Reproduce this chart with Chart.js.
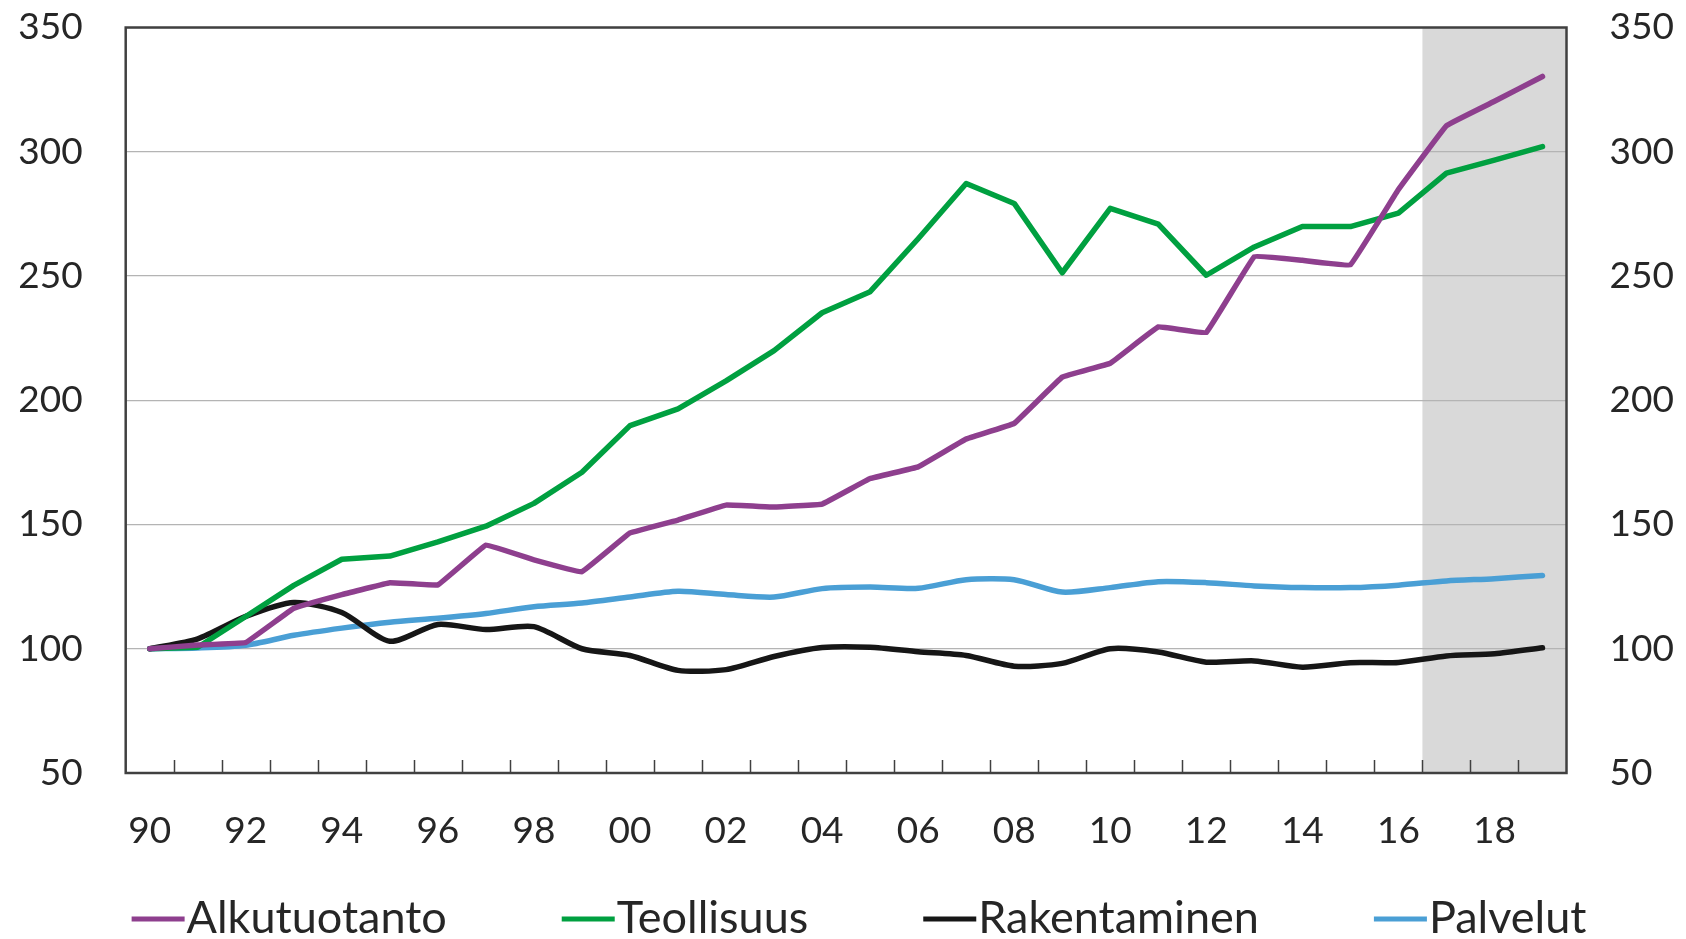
<!DOCTYPE html>
<html>
<head>
<meta charset="utf-8">
<script src="https://cdn.jsdelivr.net/npm/chart.js@4/dist/chart.umd.min.js"></script>
<style>
  html, body { margin: 0; padding: 0; background: #ffffff; overflow: hidden; }
  #wrap { width: 1686px; height: 939px; position: relative; }
</style>
</head>
<body>
<div id="wrap"><canvas id="c" width="1686" height="939"></canvas></div>
<script>
// ---- Data ----
const years = ['90','91','92','93','94','95','96','97','98','99','00','01','02','03','04','05','06','07','08','09','10','11','12','13','14','15','16','17','18','19'];
const forecastStart = '17';
const alkutuotanto = [100, 101.5, 102.5, 116.3, 121.8, 126.6, 125.7, 141.7, 135.8, 131, 146.6, 151.8, 157.8, 157, 158.2, 168.5, 173.2, 184.4, 190.7, 209.3, 214.9, 229.5, 227.3, 257.8, 256.3, 254.5, 284.8, 310.5, 320.3, 330.3];
const teollisuus = [100, 100.6, 113, 125.5, 136, 137.3, 143, 149.3, 158.5, 171, 189.8, 196.5, 207.8, 220, 235.2, 243.7, 265, 287.2, 279.2, 251.3, 277.2, 270.9, 250.3, 261.7, 269.9, 269.9, 275.3, 291.4, 296.6, 302.1];
const rakentaminen = [100, 104, 113, 118.6, 114.6, 103, 109.8, 107.7, 108.9, 100, 97.3, 91.3, 91.6, 96.9, 100.5, 100.6, 98.8, 97.3, 93, 94.1, 100, 98.7, 94.6, 95.1, 92.6, 94.4, 94.5, 97.1, 98, 100.4];
const palvelut = [100, 100.3, 101.4, 105.4, 108.3, 110.7, 112.3, 114.2, 116.9, 118.4, 120.8, 123.1, 121.8, 120.8, 124.2, 124.8, 124.3, 127.8, 127.8, 122.8, 124.6, 127, 126.6, 125.3, 124.6, 124.6, 125.6, 127.3, 128.2, 129.5];
const seriesNames = ['Alkutuotanto', 'Teollisuus', 'Rakentaminen', 'Palvelut'];
const yMin = 50, yMax = 350, yStep = 50;

const colors = ['#8E3F8E', '#00A040', '#161616', '#4A9FD5'];
const FONT = 'Lato, "Noto Sans", sans-serif';
const TEXT = '#262626';

// shaded forecast region
const shadePlugin = {
  id: 'shade',
  beforeDraw(chart) {
    const xs = chart.scales.x, area = chart.chartArea, ctx = chart.ctx;
    const i = years.indexOf(forecastStart);
    const x0 = (xs.getPixelForValue(i - 1) + xs.getPixelForValue(i)) / 2;
    ctx.save();
    ctx.fillStyle = '#D9D9D9';
    ctx.fillRect(x0, area.top, area.right - x0, area.bottom - area.top);
    ctx.restore();
  }
};

// frame and inside tick marks
const framePlugin = {
  id: 'frame',
  afterDraw(chart) {
    const xs = chart.scales.x, a = chart.chartArea, ctx = chart.ctx;
    ctx.save();
    ctx.strokeStyle = '#404040';
    ctx.lineWidth = 1.5;
    ctx.beginPath();
    for (let i = 0; i < years.length - 1; i++) {
      const x = Math.round((xs.getPixelForValue(i) + xs.getPixelForValue(i + 1)) / 2) + 0.5;
      ctx.moveTo(x, a.bottom);
      ctx.lineTo(x, a.bottom - 13);
    }
    ctx.stroke();
    ctx.lineWidth = 2.5;
    ctx.strokeRect(a.left, a.top, a.right - a.left, a.bottom - a.top);
    ctx.restore();
  }
};

// legend: short line directly followed by the series name
const legendPlugin = {
  id: 'lineLegend',
  afterDraw(chart) {
    const ctx = chart.ctx;
    const sets = chart.data.datasets;
    const lineLen = 53, lineGap = 2, itemGap = 115, centerX = 859, baseY = 933, lineY = 919;
    ctx.save();
    ctx.font = '45px ' + FONT;
    const widths = sets.map(d => lineLen + lineGap + ctx.measureText(d.label).width);
    const total = widths.reduce((s, w) => s + w, 0) + itemGap * (sets.length - 1);
    let x = centerX - total / 2;
    sets.forEach((d, k) => {
      ctx.fillStyle = d.borderColor;
      ctx.fillRect(x, lineY - 2.5, lineLen, 5);
      ctx.fillStyle = TEXT;
      ctx.textBaseline = 'alphabetic';
      ctx.textAlign = 'left';
      ctx.fillText(d.label, x + lineLen + lineGap, baseY);
      x += widths[k] + itemGap;
    });
    ctx.restore();
  }
};

const dataArrays = [alkutuotanto, teollisuus, rakentaminen, palvelut];
const tensions = [0.05, 0, 0.25, 0.25];

function zeroPad(s) { s.paddingTop = 0; s.paddingBottom = 0; s.paddingLeft = 0; s.paddingRight = 0; }

new Chart(document.getElementById('c'), {
  type: 'line',
  data: {
    labels: years,
    datasets: seriesNames.map((name, k) => ({
      label: name,
      data: dataArrays[k],
      borderColor: colors[k],
      backgroundColor: colors[k],
      borderWidth: 5.5,
      pointRadius: 0,
      tension: tensions[k],
      borderJoinStyle: 'round',
      borderCapStyle: 'round',
      yAxisID: 'y'
    }))
  },
  options: {
    responsive: false,
    animation: false,
    events: [],
    layout: { padding: { left: 0, right: 0, top: 27.5, bottom: 86 } },
    plugins: {
      tooltip: { enabled: false },
      legend: { display: false }
    },
    scales: {
      x: {
        type: 'category',
        offset: true,
        grid: { display: false, drawTicks: false },
        border: { display: false },
        afterFit: (s) => { s.height = 80; zeroPad(s); },
        ticks: {
          autoSkip: false,
          maxRotation: 0,
          minRotation: 0,
          padding: 36,
          color: TEXT,
          font: { family: FONT, size: 37 },
          callback: function (v, i) { return i % 2 === 0 ? years[i] : ''; }
        }
      },
      y: {
        position: 'left',
        min: yMin, max: yMax,
        afterFit: (s) => { s.width = 125.7; zeroPad(s); },
        grid: { color: '#B4B4B4', lineWidth: 1.2, drawTicks: false },
        border: { display: false },
        ticks: { stepSize: yStep, padding: 43, color: TEXT, font: { family: FONT, size: 37 } }
      },
      y2: {
        position: 'right',
        min: yMin, max: yMax,
        afterFit: (s) => { s.width = 119.5; zeroPad(s); },
        grid: { display: false, drawTicks: false },
        border: { display: false },
        ticks: { stepSize: yStep, padding: 43, color: TEXT, font: { family: FONT, size: 37 } }
      }
    }
  },
  plugins: [shadePlugin, framePlugin, legendPlugin]
});
</script>
</body>
</html>
